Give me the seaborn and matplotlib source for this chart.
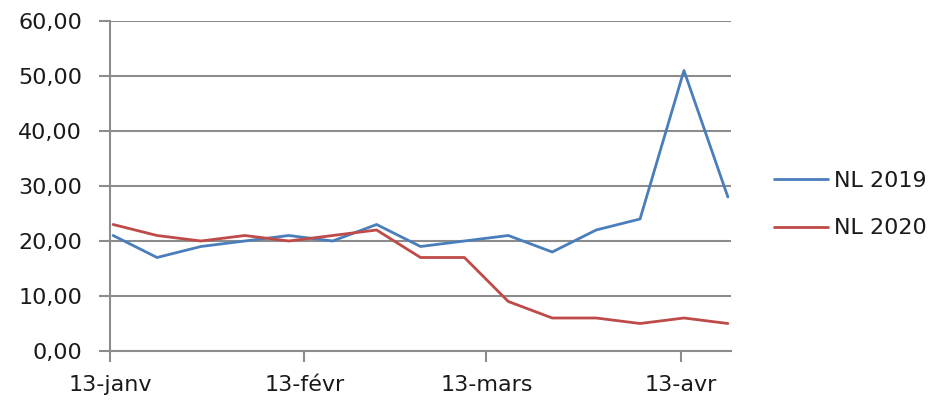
import matplotlib
matplotlib.use("Agg")
import matplotlib.pyplot as plt
import seaborn as sns
import pandas as pd

# ---- data ----
start_date = "2020-01-13 12:00"
n_weeks = 15
nl_2019 = [21, 17, 19, 20, 21, 20, 23, 19, 20, 21, 18, 22, 24, 51, 28]
nl_2020 = [23, 21, 20, 21, 20, 21, 22, 17, 17, 9, 6, 6, 5, 6, 5]
series_names = ["NL 2019", "NL 2020"]
colors = ["#4A7EBB", "#BE4B48"]
tick_dates = ["2020-01-13", "2020-02-13", "2020-03-13", "2020-04-13"]
tick_labels = ["13-janv", "13-févr", "13-mars", "13-avr"]
y_ticks = [0, 10, 20, 30, 40, 50, 60]

dates = pd.date_range(start_date, periods=n_weeks, freq="7D")
df = pd.concat([
    pd.DataFrame({"date": dates, "value": nl_2019, "series": series_names[0]}),
    pd.DataFrame({"date": dates, "value": nl_2020, "series": series_names[1]}),
])

sns.set_style("white")
plt.rcParams["font.family"] = ["DejaVu Sans"]

fig = plt.figure(figsize=(9.36, 4.0), dpi=100)
ax = fig.add_axes([110 / 936, 49 / 400, 621 / 936, 330 / 400])

sns.lineplot(data=df, x="date", y="value", hue="series",
             palette=dict(zip(series_names, colors)), linewidth=2.0, ax=ax,
             legend=True)

grid_c = "#8C8C8C"
ax.set_ylim(0, 60)
ax.set_yticks(y_ticks)
ax.set_yticklabels([f"{v:.2f}".replace(".", ",") for v in y_ticks])
ax.set_xlim(pd.Timestamp("2020-01-13"), pd.Timestamp("2020-04-21"))
ax.set_xticks([pd.Timestamp(d) for d in tick_dates])
ax.set_xticklabels(tick_labels)
ax.yaxis.grid(True, color=grid_c, linewidth=1.5)
ax.xaxis.grid(False)
ax.set_axisbelow(True)
for s in ["top", "right"]:
    ax.spines[s].set_visible(False)
for s in ["left", "bottom"]:
    ax.spines[s].set_color(grid_c)
    ax.spines[s].set_linewidth(1.5)
ax.tick_params(axis="both", which="major", direction="out", length=8,
               width=1.5, color=grid_c, labelsize=16, labelcolor="#1a1a1a",
               bottom=True, left=True)
ax.tick_params(axis="y", pad=12)
ax.tick_params(axis="x", pad=9)
ax.set_xlabel("")
ax.set_ylabel("")

handles, labels = ax.get_legend_handles_labels()
ax.legend(handles, labels, loc="center left", bbox_to_anchor=(0.806, 0.489),
          bbox_transform=fig.transFigure, frameon=False, fontsize=16,
          handlelength=2.4, handletextpad=0.3, labelspacing=1.25,
          labelcolor="#1a1a1a")

fig.savefig("out.png", dpi=100)
